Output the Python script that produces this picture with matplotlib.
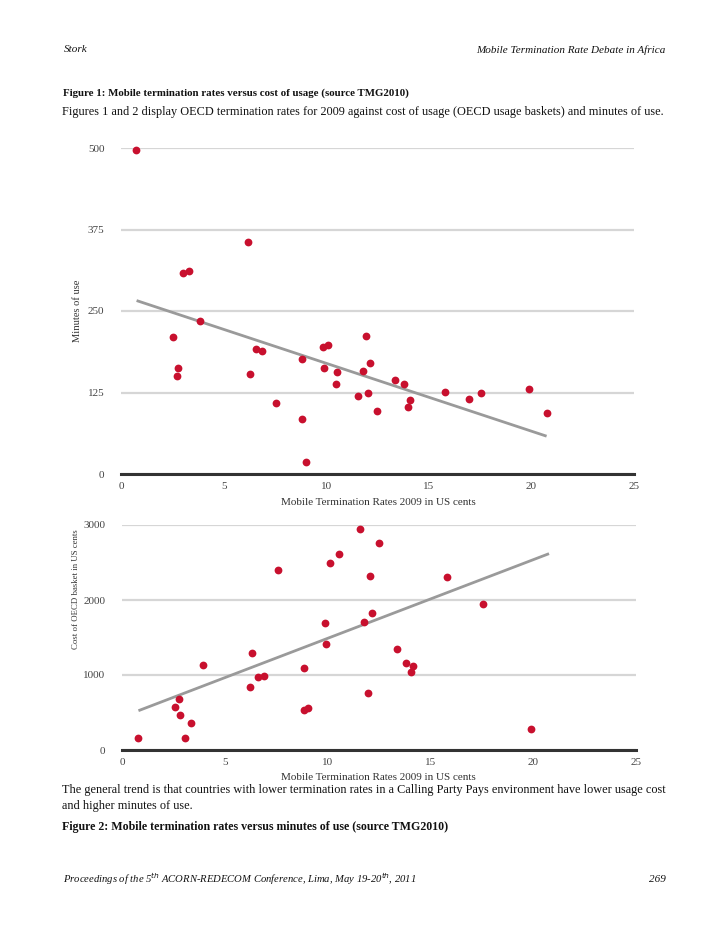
import matplotlib
matplotlib.use("Agg")
import matplotlib.pyplot as plt

# ---- data ----
mtr1 = [0.73, 2.55, 2.78, 2.73, 3.04, 3.33, 3.86, 6.17, 6.29, 6.58, 6.86, 7.57,
        8.84, 8.80, 9.03, 9.86, 10.07, 9.91, 10.51, 10.49, 11.92, 12.13, 11.78,
        11.53, 12.04, 12.46, 13.37, 13.81, 14.10, 14.00, 15.79, 16.94, 17.54,
        19.88, 20.76]
minutes = [497, 210, 162, 151, 308, 312, 235, 356, 154, 192, 189, 109,
           176, 84, 19, 195, 198, 163, 157, 138, 211, 171, 158,
           120, 124, 97, 144, 138, 113, 102, 126, 115, 125,
           130, 94]
trend1_x = [0.76, 20.74]
trend1_y = [266, 58]

mtr2 = [11.56, 12.49, 10.54, 10.10, 7.60, 12.05, 12.16, 11.79, 9.89, 9.92,
        13.38, 6.30, 3.92, 8.84, 6.61, 6.89, 6.21, 15.81, 17.57, 13.82,
        14.14, 14.05, 2.75, 2.57, 2.81, 3.35, 3.08, 0.77, 8.87, 9.05,
        11.95, 19.87]
cost = [2947, 2756, 2609, 2489, 2404, 2324, 1827, 1707, 1689, 1413,
        1351, 1293, 1138, 1098, 969, 982, 844, 2302, 1951, 1164,
        1120, 1044, 684, 578, 471, 360, 164, 156, 537, 556,
        764, 276]
trend2_x = [0.80, 20.77]
trend2_y = [524, 2618]

xticks = [0, 5, 10, 15, 20, 25]
yticks1 = [0, 125, 250, 375, 500]
yticks2 = [0, 1000, 2000, 3000]

# ---- figure ----
W, H = 728, 943
fig = plt.figure(figsize=(W / 100, H / 100), dpi=100)
fig.patch.set_facecolor("white")
SERIF = ["Liberation Serif", "DejaVu Serif"]
plt.rcParams["font.family"] = SERIF

RED = "#c8102e"
GRID = "#d6d6d6"
TREND = "#9a9a9a"
TXT = "#111111"


def fx(px):
    return px / W


def fy(py):
    return 1 - py / H


def make_axes(x0, x1, y_top, y_bot, ylim, yticks, xs, ys, tx, ty):
    ax = fig.add_axes([fx(x0), fy(y_bot), fx(x1) - fx(x0), fy(y_top) - fy(y_bot)])
    ax.set_xlim(0, 25)
    ax.set_ylim(*ylim)
    for s in ["top", "right", "left"]:
        ax.spines[s].set_visible(False)
    ax.spines["bottom"].set_color("#333333")
    ax.spines["bottom"].set_linewidth(2.2)
    ax.set_yticks(yticks)
    ax.set_xticks(xticks)
    ax.tick_params(length=0, labelsize=8, colors="#444444", pad=6)
    ax.tick_params(axis="y", pad=12)
    ax.grid(axis="y", color=GRID, linewidth=1.6)
    ax.set_axisbelow(True)
    ax.plot(tx, ty, color=TREND, linewidth=2, solid_capstyle="butt", zorder=2)
    ax.plot(xs, ys, "o", color=RED, markersize=5.6, markeredgewidth=0,
            clip_on=False, zorder=3)
    return ax


ax1 = make_axes(121, 634, 148, 474, (0, 500), yticks1, mtr1, minutes,
                trend1_x, trend1_y)
ax2 = make_axes(122, 636, 525, 750, (0, 3000), yticks2, mtr2, cost,
                trend2_x, trend2_y)

# axis titles placed like the reference
fig.text(fx(378), fy(503), "Mobile Termination Rates 2009 in US cents", fontsize=8,
         color="#333333", ha="center", va="center")
fig.text(fx(378), fy(778), "Mobile Termination Rates 2009 in US cents", fontsize=8,
         color="#333333", ha="center", va="center")
fig.text(fx(78), fy(311), "Minutes of use", fontsize=7.6, color="#333333",
         rotation=90, ha="center", va="center")
fig.text(fx(76), fy(589), "Cost of OECD basket in US cents", fontsize=6.3,
         color="#333333", rotation=90, ha="center", va="center")

# ---- page text ----
fig.text(fx(64), fy(50), "Stork", fontsize=8, style="italic", va="center", ha="left", color=TXT)
fig.text(fx(666), fy(50), "Mobile Termination Rate Debate in Africa", fontsize=8,
         style="italic", va="center", ha="right", color=TXT)
fig.text(fx(63), fy(93), "Figure 1: Mobile termination rates versus cost of usage (source TMG2010)",
         fontsize=7.8, weight="bold", va="center", ha="left", color=TXT)
fig.text(fx(62), fy(112),
         "Figures 1 and 2 display OECD termination rates for 2009 against cost of usage (OECD usage baskets) and minutes of use.",
         fontsize=8.85, va="center", ha="left", color=TXT)
fig.text(fx(62), fy(790),
         "The general trend is that countries with lower termination rates in a Calling Party Pays environment have lower usage cost",
         fontsize=8.85, va="center", ha="left", color=TXT)
fig.text(fx(62), fy(806), "and higher minutes of use.", fontsize=8.85, va="center", ha="left", color=TXT)
fig.text(fx(62), fy(827), "Figure 2: Mobile termination rates versus minutes of use (source TMG2010)",
         fontsize=8.6, weight="bold", va="center", ha="left", color=TXT)
fig.text(fx(63), fy(879),
         r"Proceedings of the 5$^{th}$ ACORN-REDECOM Conference, Lima, May 19-20$^{th}$, 2011",
         fontsize=7.7, style="italic", va="center", ha="left", color=TXT)
fig.text(fx(666), fy(879), "269", fontsize=8, style="italic", va="center", ha="right", color=TXT)

fig.savefig("out.png", dpi=100, facecolor="white")
